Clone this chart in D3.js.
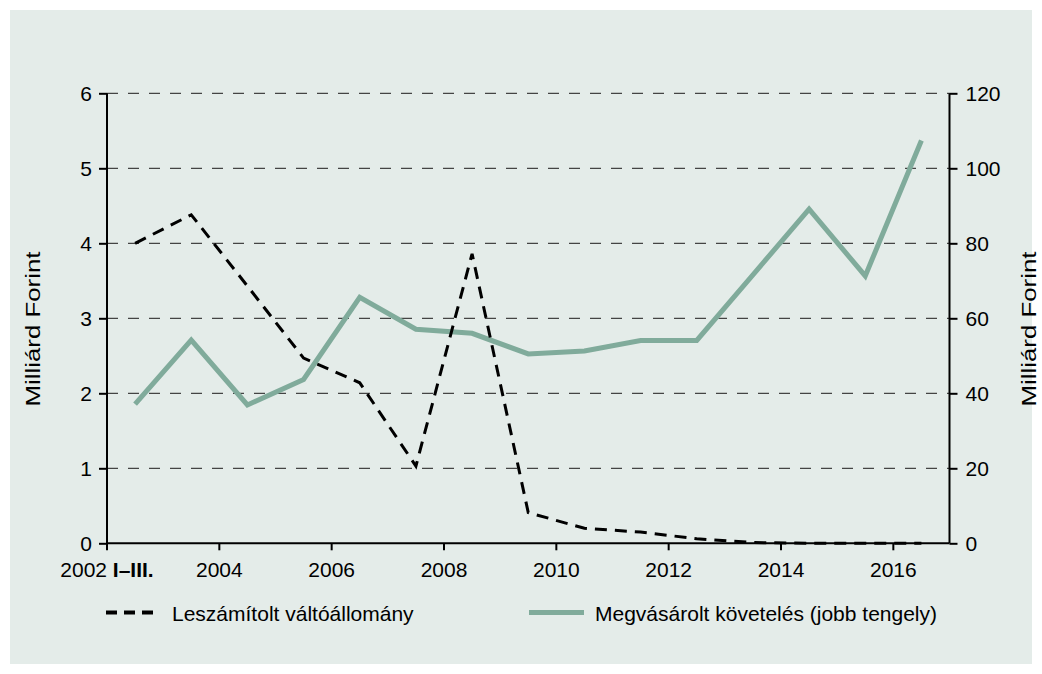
<!DOCTYPE html>
<html lang="hu">
<head>
<meta charset="utf-8">
<title>Leszámítolt váltóállomány és megvásárolt követelés</title>
<script src="https://cdn.jsdelivr.net/npm/d3@7"></script>
<style>
body { margin: 0; background: #fff; }
svg { display: block; font-family: "Liberation Sans", Arial, sans-serif; }
.axis path, .axis line { stroke: #000; stroke-width: 2px; }
.axis text { font-size: 21px; fill: #000; font-family: "Liberation Sans", Arial, sans-serif; }
.grid line { stroke: #444; stroke-width: 1.3px; stroke-dasharray: 11,10; }
.title { font-size: 21px; fill: #000; }
.legend text { font-size: 21px; fill: #000; }
</style>
</head>
<body>
<svg width="1042" height="674"></svg>
<script>
// kategóriák (x tengely)
var categories = ["2002 I–III.", "2003", "2004", "2005", "2006", "2007", "2008", "2009",
                  "2010", "2011", "2012", "2013", "2014", "2015", "2016"];
// Leszámítolt váltóállomány, milliárd Ft (bal tengely)
var leszamitolt = [4.0, 4.38, 3.43, 2.47, 2.14, 1.03, 3.86, 0.41, 0.2, 0.15, 0.06, 0.01, 0, 0, 0];
// Megvásárolt követelés, milliárd Ft (jobb tengely)
var megvasarolt = [37.1, 54.2, 36.9, 43.7, 65.6, 57.1, 56.0, 50.5, 51.3, 54.1, 54.1, 71.6, 89.1, 71.3, 107.4];

var leftTicks = [0, 1, 2, 3, 4, 5, 6];
var rightTicks = [0, 20, 40, 60, 80, 100, 120];
var xTickLabels = ["2002 I–III.", "2004", "2006", "2008", "2010", "2012", "2014", "2016"];

var svg = d3.select("svg");
var margin = {top: 93.3, right: 92.5, bottom: 130.7, left: 107};
var width = 1042 - margin.left - margin.right,
    height = 674 - margin.top - margin.bottom;

// háttér
svg.append("rect")
  .attr("x", 10).attr("y", 10)
  .attr("width", 1022).attr("height", 654)
  .attr("fill", "#e4ece9");

var g = svg.append("g")
  .attr("transform", "translate(" + margin.left + "," + margin.top + ")");

var x = d3.scaleBand().domain(categories).range([0, width]).padding(0);
var yL = d3.scaleLinear().domain([0, 6]).range([height, 0]);
var yR = d3.scaleLinear().domain([0, 120]).range([height, 0]);

// rácsvonalak
g.append("g").attr("class", "grid")
  .selectAll("line").data(leftTicks.filter(function(d) { return d > 0; }))
  .enter().append("line")
  .attr("x1", 0).attr("x2", width)
  .attr("y1", function(d) { return yL(d); })
  .attr("y2", function(d) { return yL(d); });

// bal tengely
var axL = g.append("g").attr("class", "axis")
  .call(d3.axisLeft(yL).tickValues(leftTicks).tickFormat(d3.format("d"))
    .tickSize(8).tickPadding(7).tickSizeOuter(0));
axL.select(".domain").attr("d", "M0," + height + "V0");

// jobb tengely
var axR = g.append("g").attr("class", "axis")
  .attr("transform", "translate(" + width + ",0)")
  .call(d3.axisRight(yR).tickValues(rightTicks).tickFormat(d3.format("d"))
    .tickSize(8).tickPadding(8).tickSizeOuter(0));
axR.select(".domain").attr("d", "M0," + height + "V0");

// x tengely
var xTickCats = categories.filter(function(d, i) { return i % 2 == 0; });
var axX = g.append("g").attr("class", "axis")
  .attr("transform", "translate(0," + height + ")")
  .call(d3.axisBottom(x).tickValues(xTickCats).tickSize(7).tickPadding(12).tickSizeOuter(0)
    .tickFormat(function(d, i) { return xTickLabels[i]; }));
axX.selectAll(".tick").attr("transform", function(d) { return "translate(" + x(d) + ",0)"; });
axX.select(".domain").attr("d", "M0,0H" + width);
axX.selectAll("text").filter(function(d, i) { return i == 0; })
  .text(null)
  .call(function(t) {
    t.append("tspan").text("2002 ");
    t.append("tspan").attr("font-weight", "bold").text("I–III.");
  });

var cx = function(d, i) { return x(categories[i]) + x.bandwidth() / 2; };

// megvásárolt követelés
g.append("path")
  .datum(megvasarolt)
  .attr("fill", "none")
  .attr("stroke", "#80ab9b")
  .attr("stroke-width", 5)
  .attr("stroke-linejoin", "miter")
  .attr("d", d3.line().x(cx).y(function(d) { return yR(d); }));

// leszámítolt váltóállomány
g.append("path")
  .datum(leszamitolt)
  .attr("fill", "none")
  .attr("stroke", "#000")
  .attr("stroke-width", 3)
  .attr("stroke-dasharray", "12,8")
  .attr("d", d3.line().x(cx).y(function(d) { return yL(d); }));

// tengelycímek
svg.append("text").attr("class", "title")
  .attr("transform", "translate(40,329) rotate(-90)")
  .attr("text-anchor", "middle")
  .attr("textLength", 155).attr("lengthAdjust", "spacingAndGlyphs")
  .text("Milliárd Forint");
svg.append("text").attr("class", "title")
  .attr("transform", "translate(1036,329) rotate(-90)")
  .attr("text-anchor", "middle")
  .attr("textLength", 155).attr("lengthAdjust", "spacingAndGlyphs")
  .text("Milliárd Forint");

// jelmagyarázat
var legend = svg.append("g").attr("class", "legend");
legend.append("line")
  .attr("x1", 106).attr("x2", 160).attr("y1", 612.5).attr("y2", 612.5)
  .attr("stroke", "#000").attr("stroke-width", 4).attr("stroke-dasharray", "11,7");
legend.append("text").attr("x", 172).attr("y", 620.5).text("Leszámítolt váltóállomány");
legend.append("line")
  .attr("x1", 529).attr("x2", 584).attr("y1", 612.5).attr("y2", 612.5)
  .attr("stroke", "#80ab9b").attr("stroke-width", 5);
legend.append("text").attr("x", 595).attr("y", 620.5).text("Megvásárolt követelés (jobb tengely)");
</script>
</body>
</html>
